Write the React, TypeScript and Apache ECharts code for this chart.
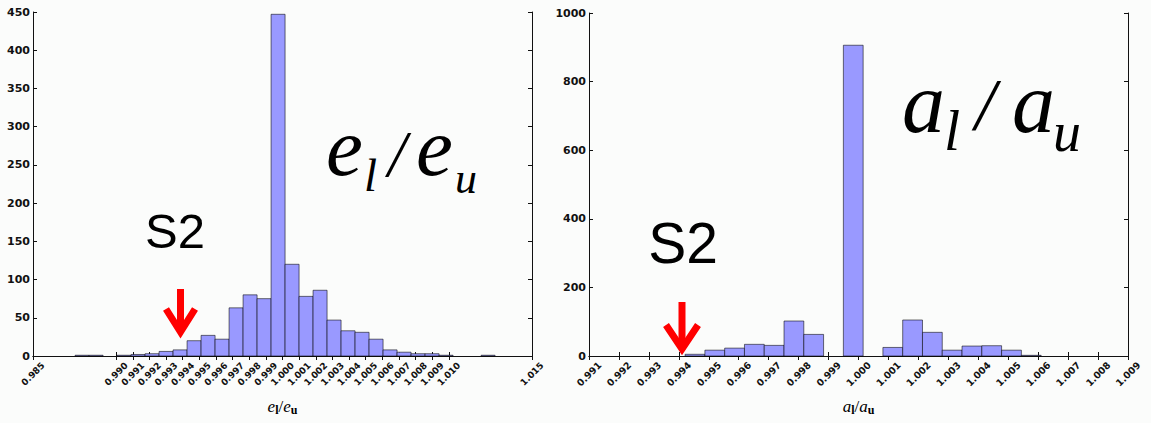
import React, { useEffect, useRef } from 'react';
import * as echarts from 'echarts';

// ---------- data ----------
const leftTicks = [0.985, 0.99, 0.991, 0.992, 0.993, 0.994, 0.995, 0.996, 0.997, 0.998, 0.999, 1.0, 1.001, 1.002, 1.003, 1.004, 1.005, 1.006, 1.007, 1.008, 1.009, 1.01, 1.015];
const leftBinMin = 0.98753;
const leftBinMax = 1.01278;
const leftCounts = [1, 1, 0, 1, 2, 3, 6, 8, 20, 27, 22, 63, 80, 75, 447, 120, 78, 86, 47, 33, 31, 22, 8, 5, 3, 3, 1, 0, 0, 1];

const rightTicks = [0.991, 0.992, 0.993, 0.994, 0.995, 0.996, 0.997, 0.998, 0.999, 1.0, 1.001, 1.002, 1.003, 1.004, 1.005, 1.006, 1.007, 1.008, 1.009];
const rightBinMin = 0.99421;
const rightBinMax = 1.0061;
const rightCounts = [5, 17, 23, 34, 31, 102, 63, 0, 906, 0, 25, 105, 69, 17, 29, 30, 17, 2];

function toBins(min: number, max: number, counts: number[]) {
  const w = (max - min) / counts.length;
  return counts
    .map((c, i) => [min + i * w, min + (i + 1) * w, c])
    .filter((d) => d[2] > 0);
}

const BAR_FILL = '#9999ff';
const BAR_EDGE = 'rgba(0,0,0,0.55)';
const AX = '#111';

function renderBin(params: any, api: any) {
  const p0 = api.coord([api.value(0), api.value(2)]);
  const p1 = api.coord([api.value(1), 0]);
  return {
    type: 'rect',
    shape: { x: p0[0], y: p0[1], width: p1[0] - p0[0], height: p1[1] - p0[1] },
    style: { fill: BAR_FILL, stroke: BAR_EDGE, lineWidth: 1 },
  };
}

const serif = 'Liberation Serif';
const nameRich = {
  i: { fontFamily: serif, fontStyle: 'italic', fontSize: 17, lineHeight: 18, verticalAlign: 'top', color: '#000' },
  n: { fontFamily: serif, fontSize: 17, lineHeight: 18, verticalAlign: 'top', color: '#000' },
  b: { fontFamily: serif, fontWeight: 'bold', fontSize: 12, lineHeight: 14, padding: [7, 0, 0, 0], verticalAlign: 'bottom', color: '#000' },
};

function xBottom(grid: number, min: number, max: number, ticks: number[], fs: number, name: string) {
  return {
    type: 'value', gridIndex: grid, min, max, position: 'bottom',
    axisLine: { show: true, lineStyle: { color: AX, width: 1 } },
    axisTick: { show: true, inside: true, length: 4, customValues: ticks, lineStyle: { color: AX } },
    axisLabel: {
      customValues: ticks, rotate: 45, align: 'center', verticalAlign: 'middle', margin: 18,
      fontFamily: 'DejaVu Sans', fontSize: fs, fontWeight: 'bold', color: '#111',
      formatter: (v: number) => v.toFixed(3),
    },
    splitLine: { show: false },
    name, nameLocation: 'middle', nameGap: 42, nameTextStyle: { rich: nameRich },
  };
}
function xTop(grid: number, min: number, max: number, ticks: number[]) {
  return {
    type: 'value', gridIndex: grid, min, max, position: 'top',
    axisLine: { show: true, lineStyle: { color: AX, width: 1 } },
    axisTick: { show: true, inside: true, length: 4, customValues: ticks, lineStyle: { color: AX } },
    axisLabel: { show: false, customValues: ticks },
    splitLine: { show: false },
  };
}
function yLeft(grid: number, max: number, interval: number, fs: number) {
  return {
    type: 'value', gridIndex: grid, min: 0, max, interval, position: 'left',
    axisLine: { show: true, lineStyle: { color: AX, width: 1 } },
    axisTick: { show: true, inside: true, length: 4, lineStyle: { color: AX } },
    axisLabel: {
      fontFamily: 'DejaVu Sans', fontSize: fs, fontWeight: 'bold', color: '#111', margin: 3,
      formatter: (v: number) => String(v),
    },
    splitLine: { show: false },
  };
}
function yRight(grid: number, max: number, interval: number) {
  return {
    type: 'value', gridIndex: grid, min: 0, max, interval, position: 'right',
    axisLine: { show: true, lineStyle: { color: AX, width: 1 } },
    axisTick: { show: true, inside: true, length: 4, lineStyle: { color: AX } },
    axisLabel: { show: false },
    splitLine: { show: false },
  };
}

function txt(text: string, x: number, y: number, size: number, family: string, italic: boolean, align = 'left') {
  return {
    type: 'text', x, y, z: 100,
    style: {
      text, fontFamily: family, fontStyle: italic ? 'italic' : 'normal', fontSize: size,
      fill: '#000', align, verticalAlign: 'middle',
    },
  };
}
function arrow(x: number, top: number, vertex: number, armX: number, armY: number) {
  const st = { stroke: '#ff0000', lineWidth: 7, fill: null, lineJoin: 'miter', lineCap: 'butt' };
  return [
    { type: 'polyline', z: 100, shape: { points: [[x, top], [x, vertex]] }, style: st },
    { type: 'polyline', z: 100, shape: { points: [[x - armX, armY], [x, vertex], [x + armX, armY]] }, style: st },
  ];
}

export default function App() {
  const ref = useRef<HTMLDivElement>(null);
  useEffect(() => {
    if (!ref.current) return;
    const chart = echarts.init(ref.current, undefined, { renderer: 'svg' });
    chart.setOption({
      animation: false,
      backgroundColor: '#fbfcfb',
      grid: [
        { left: 33, top: 12, width: 499, height: 344 },
        { left: 589, top: 13, width: 539, height: 343 },
      ],
      xAxis: [
        xBottom(0, 0.985, 1.015, leftTicks, 9, '{i|e}{b|l}{n|/}{i|e}{b|u}'),
        xTop(0, 0.985, 1.015, leftTicks),
        xBottom(1, 0.991, 1.009, rightTicks, 9.5, '{i|a}{b|l}{n|/}{i|a}{b|u}'),
        xTop(1, 0.991, 1.009, rightTicks),
      ],
      yAxis: [
        yLeft(0, 450, 50, 11),
        yRight(0, 450, 50),
        yLeft(1, 1000, 200, 11),
        yRight(1, 1000, 200),
      ],
      series: [
        {
          type: 'custom', name: 'el/eu', xAxisIndex: 0, yAxisIndex: 0,
          data: toBins(leftBinMin, leftBinMax, leftCounts),
          encode: { x: [0, 1], y: 2 }, renderItem: renderBin,
        },
        {
          type: 'custom', name: 'al/au', xAxisIndex: 2, yAxisIndex: 2,
          data: toBins(rightBinMin, rightBinMax, rightCounts),
          encode: { x: [0, 1], y: 2 }, renderItem: renderBin,
        },
      ],
      graphic: [
        txt('S2', 175, 231, 49, 'Liberation Sans', false, 'center'),
        txt('S2', 683, 243, 57, 'Liberation Sans', false, 'center'),
        // e_l / e_u
        txt('e', 326, 147, 83, serif, true),
        txt('l', 364, 175, 47, serif, true),
        txt('/', 388, 153, 66, serif, true),
        txt('e', 416, 147, 83, serif, true),
        txt('u', 455, 178, 44, serif, true),
        // a_l / a_u
        txt('a', 902, 103, 86, serif, true),
        txt('l', 944, 130, 58, serif, true),
        txt('/', 975, 105, 74, serif, true),
        txt('a', 1012, 103, 86, serif, true),
        txt('u', 1053, 132, 56, serif, true),
        ...arrow(180.5, 289, 332, 14.5, 309),
        ...arrow(682, 302, 349, 16, 325),
      ],
    });
    return () => chart.dispose();
  }, []);
  return <div ref={ref} style={{ position: 'fixed', left: 0, top: 0, width: 1151, height: 423 }} />;
}
